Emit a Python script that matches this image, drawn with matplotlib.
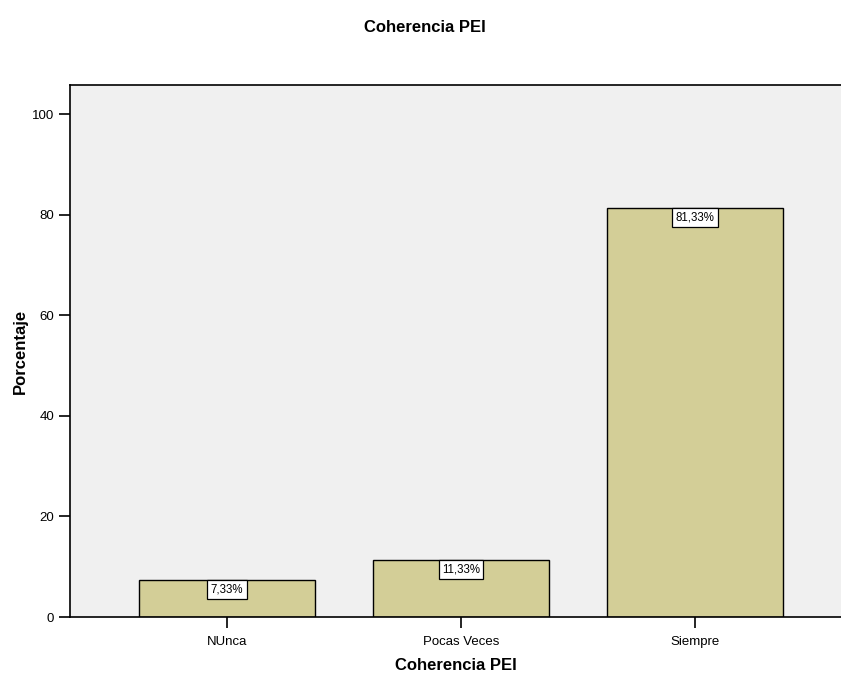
import matplotlib
matplotlib.use("Agg")
import matplotlib.pyplot as plt

categories = ["NUnca", "Pocas Veces", "Siempre"]
percentages = [7.33, 11.33, 81.33]
labels = ["7,33%", "11,33%", "81,33%"]

plt.rcParams["font.family"] = ["Liberation Sans", "DejaVu Sans"]

fig = plt.figure(figsize=(8.41, 6.77), dpi=100)
ax = fig.add_axes([70 / 841, 1 - 617 / 677, 1 - 70 / 841, (617 - 85) / 677])
ax.set_facecolor("#F0F0F0")

x = list(range(len(categories)))
ax.bar(x, percentages, width=0.752, color="#D3CE97", edgecolor="black", linewidth=1.0, zorder=2)
for xi, v, lab in zip(x, percentages, labels):
    ax.text(xi, v - 0.75, lab, ha="center", va="top", fontsize=8.3, zorder=3,
            bbox=dict(boxstyle="square,pad=0.3", facecolor="white", edgecolor="black", linewidth=0.9))

ax.set_xlim(-0.671, 2.624)
ax.set_ylim(0, 105.8)
ax.set_yticks([0, 20, 40, 60, 80, 100])
ax.set_xticks(x)
ax.set_xticklabels(categories)
ax.tick_params(axis="both", direction="out", length=8, width=1.2, labelsize=9.5, color="black")
ax.tick_params(axis="x", pad=6)
for s in ["left", "top", "bottom"]:
    ax.spines[s].set_linewidth(1.2)
ax.spines["right"].set_visible(False)

ax.set_xlabel("Coherencia PEI", fontsize=12, fontweight="bold", labelpad=7)
ax.set_ylabel("Porcentaje", fontsize=12, fontweight="bold", labelpad=3)
fig.text(425 / 841, 1 - 27 / 677, "Coherencia PEI", ha="center", va="center",
         fontsize=12, fontweight="bold")

fig.savefig("out.png", dpi=100)
